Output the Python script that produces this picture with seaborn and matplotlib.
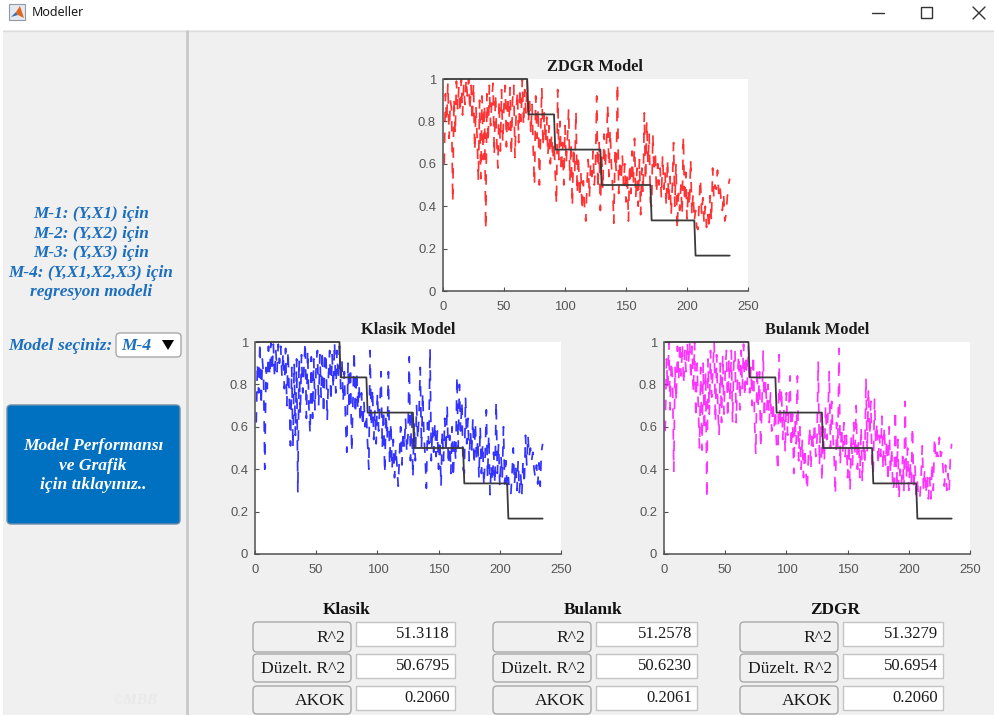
import matplotlib
matplotlib.use("Agg")
import matplotlib.pyplot as plt
from matplotlib.patches import FancyBboxPatch, Rectangle, Polygon
import seaborn as sns
import pandas as pd

window_title = "Modeller"
plot_titles = ["ZDGR Model", "Klasik Model", "Bulanık Model"]
line_colors = ["#ff0000", "#0000ff", "#ff00ff"]
x_ticks = [0, 50, 100, 150, 200, 250]
y_ticks = [0, 0.2, 0.4, 0.6, 0.8, 1]
y_tick_labels = ["0", "0.2", "0.4", "0.6", "0.8", "1"]

observed_x = [1, 69, 70, 91, 92, 129, 130, 170, 171, 206, 207, 235]
observed_y = [1, 1, 0.833, 0.833, 0.667, 0.667, 0.5, 0.5, 0.333, 0.333, 0.167, 0.167]

zdgr_values = [
 .60,.93,.80,.98,.72,.90,.86,.42,.91,.74, .99,.86,.96,.84,1.0,.83,.97,.88,1.0,.92,
 1.0,.85,.97,.80,.98,.66,.87,.72,.52,.90, .53,.92,.62,.88,.29,.93,.70,.97,.78,.90,
 .98,.64,.93,.72,.58,.90,.66,.95,.70,.88, .97,.68,.92,.76,.96,.64,.90,.97,.63,.85,
 .94,.70,.96,.80,1.0,.78,.95,.84,.99,.80, .90,.74,.88,.66,.50,.92,.72,.86,.50,.74,
 .96,.68,.84,.70,.82,.64,.78,.60,.74,.62, .70,.55,.41,.95,.62,.80,.56,.70,.50,.78,
 .60,.72,.86,.52,.70,.40,.68,.56,.85,.46, .64,.44,.56,.38,.52,.40,.33,.50,.62,.44,
 .60,.54,.66,.50,.58,.92,.48,.70,.38,.64, .48,.74,.58,.70,.88,.54,.76,.60,.50,.32,
 .66,.56,.98,.46,.62,.52,.64,.50,.60,.42, .56,.33,.60,.46,.66,.50,.72,.44,.58,.40,
 .62,.36,.58,.46,.84,.52,.80,.60,.74,.42, .40,.74,.56,.66,.46,.60,.50,.58,.44,.64,
 .48,.56,.40,.62,.42,.54,.36,.50,.70,.40, .60,.29,.46,.38,.50,.36,.73,.42,.56,.34,
 .48,.40,.62,.36,.46,.33,.38,.30,.29,.42, .53,.36,.44,.32,.40,.30,.36,.29,.45,.33,
 .58,.44,.50,.48,.57,.46,.50,.42,.38,.46, .33,.36,.44,.50,.53]

klasik_values = [
 .62,.90,.76,1.0,.70,.92,.84,.40,.88,.78, .98,.84,1.0,.86,.99,.83,.96,.86,.99,.90,
 .98,.84,.95,.78,.97,.70,.96,.74,.51,.88, .50,.90,.56,.92,.29,.92,.66,.94,.76,.88,
 1.0,.64,.96,.70,.57,.93,.64,.92,.68,.90, .96,.70,.94,.74,.96,.66,.92,.95,.63,.84,
 .96,.72,.94,.78,1.0,.76,.96,.82,.98,.78, .92,.72,.86,.62,.48,.90,.68,.88,.48,.72,
 .96,.66,.86,.68,.80,.62,.76,.60,.72,.60, .66,.52,.40,.96,.60,.78,.54,.68,.52,.76,
 .58,.70,.86,.50,.68,.38,.66,.54,.86,.42, .62,.40,.54,.36,.50,.42,.32,.46,.60,.42,
 .58,.50,.64,.48,.56,.93,.44,.68,.36,.62, .44,.70,.54,.66,.88,.50,.76,.56,.46,.31,
 .62,.52,.97,.44,.60,.48,.62,.46,.58,.40, .54,.32,.58,.44,.64,.48,.70,.42,.56,.38,
 .60,.36,.54,.44,.84,.50,.80,.58,.72,.40, .38,.74,.52,.64,.44,.58,.48,.64,.42,.62,
 .44,.54,.36,.60,.38,.52,.32,.46,.68,.36, .56,.28,.42,.34,.48,.33,.72,.38,.52,.32,
 .46,.36,.60,.33,.44,.31,.36,.29,.28,.38, .50,.33,.42,.30,.44,.29,.38,.28,.44,.33,
 .56,.42,.56,.46,.50,.44,.48,.40,.36,.42, .33,.43,.32,.48,.52]

bulanik_values = [
 .58,.92,.78,1.0,.68,.91,.82,.39,.88,.72, .98,.82,1.0,.84,.99,.80,.96,.86,1.0,.90,
 1.0,.82,.98,.76,1.0,.64,.90,.70,.50,.88, .49,.90,.58,.86,.26,.92,.66,.96,.74,.88,
 1.0,.62,.94,.68,.56,.90,.62,.94,.66,.86, .96,.64,.92,.72,.96,.62,.90,.96,.62,.82,
 .94,.68,.96,.78,.99,.74,.94,.80,.98,.76, .88,.70,.94,.62,.47,.88,.70,.86,.50,.70,
 .96,.64,.82,.68,.80,.62,.76,.58,.72,.60, .68,.50,.39,.94,.60,.78,.54,.68,.48,.76,
 .56,.70,.84,.50,.66,.38,.64,.52,.84,.44, .60,.40,.54,.36,.50,.38,.30,.46,.60,.40,
 .58,.50,.62,.46,.54,.91,.42,.66,.34,.60, .44,.70,.54,.66,.86,.50,.72,.56,.46,.28,
 .62,.50,.97,.42,.60,.48,.62,.46,.56,.36, .52,.30,.56,.42,.62,.46,.70,.40,.54,.36,
 .60,.34,.54,.42,.83,.48,.78,.56,.72,.38, .39,.73,.52,.62,.42,.56,.46,.65,.40,.60,
 .42,.54,.34,.60,.38,.50,.30,.33,.68,.30, .54,.26,.40,.33,.46,.30,.72,.36,.50,.30,
 .44,.33,.60,.30,.42,.28,.34,.26,.26,.36, .51,.30,.40,.28,.38,.26,.36,.26,.43,.30,
 .55,.44,.48,.46,.55,.46,.48,.40,.32,.42, .30,.38,.30,.46,.52]

r2_label = "R^2"
adj_label = "Düzelt. R^2"
akok_label = "AKOK"
table_headers = ["Klasik", "Bulanık", "ZDGR"]
r2_values = ["51.3118", "51.2578", "51.3279"]
adj_values = ["50.6795", "50.6230", "50.6954"]
akok_values = ["0.2060", "0.2061", "0.2060"]

side_lines = ["M-1: (Y,X1) için", "M-2: (Y,X2) için", "M-3: (Y,X3) için",
              "M-4: (Y,X1,X2,X3) için", "regresyon modeli"]
select_label = "Model seçiniz:"
select_value = "M-4"
button_lines = ["Model Performansı", "ve Grafik", "için tıklayınız.."]
watermark = "©MBB"

W, H = 995, 715
BG = "#f0f0f0"
SERIF = "Liberation Serif"
BLUE = "#1b6fbe"
DARK = "#505050"

sns.set_theme(style="white")
plt.rcParams["font.family"] = ["Liberation Sans", "DejaVu Sans"]
fig = plt.figure(figsize=(W / 100, H / 100), dpi=100, facecolor=BG)

bg = fig.add_axes([0, 0, 1, 1], zorder=0)
bg.set_xlim(0, W)
bg.set_ylim(H, 0)
bg.axis("off")


def box(x0, y0, x1, y1, fc="white", ec="#adadad", r=4, lw=1.0, ax=bg):
    ax.add_patch(FancyBboxPatch((x0 + r, y0 + r), x1 - x0 - 2 * r, y1 - y0 - 2 * r,
                                boxstyle=f"round,pad={r},rounding_size={r}",
                                fc=fc, ec=ec, lw=lw))


bg.add_patch(Rectangle((0, 0), W, 30, fc="white", ec="none"))
bg.add_patch(Rectangle((0, 0), 3, H, fc="white", ec="none"))
bg.plot([3, W], [30.5, 30.5], color="#dcdcdc", lw=1)
bg.plot([186.5, 186.5], [31, H], color="#c8c8c8", lw=2)

# window icon and caption
bg.add_patch(Rectangle((9, 4), 16, 16, fc="#e6eaf0", ec="#8f9aa8", lw=0.8))
bg.add_patch(Polygon([[11, 17], [16, 12], [18, 15]], fc="#3f6fa8", ec="none"))
bg.add_patch(Polygon([[16, 12], [20, 6], [24, 18], [18, 15]], fc="#e2661d", ec="none"))
bg.text(32, 13, window_title, fontsize=9, family="Noto Sans", va="center", color="#1a1a1a")
bg.plot([872, 884], [13, 13], color="#333333", lw=1)
bg.add_patch(Rectangle((921, 7), 10.5, 10.5, fc="none", ec="#333333", lw=1))
bg.plot([973, 985], [7, 19], color="#333333", lw=1)
bg.plot([973, 985], [19, 7], color="#333333", lw=1)

# side panel
for i, line in enumerate(side_lines):
    bg.text(91, 214 + 19.6 * i, line, family=SERIF, style="italic", weight="bold",
            fontsize=12.4, color=BLUE, ha="center", va="center")
bg.text(8, 346, select_label, family=SERIF, style="italic", weight="bold",
        fontsize=12.6, color=BLUE, ha="left", va="center")
box(116, 333, 181, 357, fc="white", ec="#a8a8a8", r=4)
bg.text(121, 346, select_value, family=SERIF, style="italic", weight="bold",
        fontsize=12.6, color=BLUE, ha="left", va="center")
bg.add_patch(Polygon([[162, 340], [174, 340], [168, 350]], fc="black", ec="none"))
box(7, 405, 180, 524, fc="#0070c0", ec="#6f8fa8", r=4)
for i, line in enumerate(button_lines):
    bg.text(93, 446 + 19.5 * i, line, family=SERIF, style="italic", weight="bold",
            fontsize=12.6, color="white", ha="center", va="center")
bg.text(135, 701, watermark, family=SERIF, style="italic", weight="bold",
        fontsize=11, color="#e9e9e9", ha="center", va="center")

# result table
columns = [(253, 356, 455, 347), (493, 596, 697, 593), (740, 843, 943, 835)]
rows = [(622, 652, 646, r2_label, r2_values),
        (654, 682, 678, adj_label, adj_values),
        (686, 714, 710, akok_label, akok_values)]
for j, (lx, vx, vx1, hx) in enumerate(columns):
    bg.text(hx, 610, table_headers[j], family=SERIF, weight="bold", fontsize=12.4,
            color="#111111", ha="center", va="center")
    for (y0, y1, vy1, label, values) in rows:
        box(lx, y0, lx + 98, y1, fc=BG, ec="#a8a8a8", r=4)
        bg.text(lx + 92, (y0 + y1) / 2 + 1, label, family=SERIF, fontsize=12.6,
                color="#1a1a1a", ha="right", va="center")
        bg.add_patch(Rectangle((vx, y0), vx1 - vx, vy1 - y0, fc="white", ec="#c4c4c4", lw=1))
        bg.text(vx1 - 5, (y0 + vy1) / 2, values[j], family=SERIF, fontsize=12,
                color="#1a1a1a", ha="right", va="center")

# plots
boxes = [(443, 748, 79, 291), (255, 561, 342, 554), (664, 970, 342, 554)]
model_series = [zdgr_values, klasik_values, bulanik_values]
observed = pd.DataFrame({"x": observed_x, "y": observed_y})
for (x0, x1, y0, y1), title, values, color in zip(boxes, plot_titles, model_series, line_colors):
    ax = fig.add_axes([x0 / W, 1 - y1 / H, (x1 - x0) / W, (y1 - y0) / H], zorder=2)
    ax.set_facecolor("white")
    df = pd.DataFrame({"x": list(range(1, len(values) + 1)), "y": values})
    sns.lineplot(data=df, x="x", y="y", ax=ax, color=color, lw=1.25, alpha=0.8,
                 linestyle=(0, (6, 6)), estimator=None, sort=False, errorbar=None)
    sns.lineplot(data=observed, x="x", y="y", ax=ax, color="#3a3a3a", lw=1.3,
                 estimator=None, sort=False, errorbar=None, clip_on=False)
    ax.set_xlim(0, 250)
    ax.set_ylim(0, 1)
    ax.set_xticks(x_ticks)
    ax.set_yticks(y_ticks)
    ax.set_yticklabels(y_tick_labels)
    ax.set_xlabel("")
    ax.set_ylabel("")
    ax.tick_params(direction="in", length=3, width=0.8, color=DARK, labelcolor="#555555",
                   labelsize=9.4, left=True, bottom=True)
    ax.tick_params(axis="x", pad=7)
    ax.tick_params(axis="y", pad=5)
    sns.despine(ax=ax)
    for s in ("left", "bottom"):
        ax.spines[s].set_color(DARK)
        ax.spines[s].set_linewidth(1.1)
    ax.set_title(title, family=SERIF, weight="bold", fontsize=11.8, color="#1a1a1a", pad=6)

fig.savefig("out.png", dpi=100, facecolor=BG)
